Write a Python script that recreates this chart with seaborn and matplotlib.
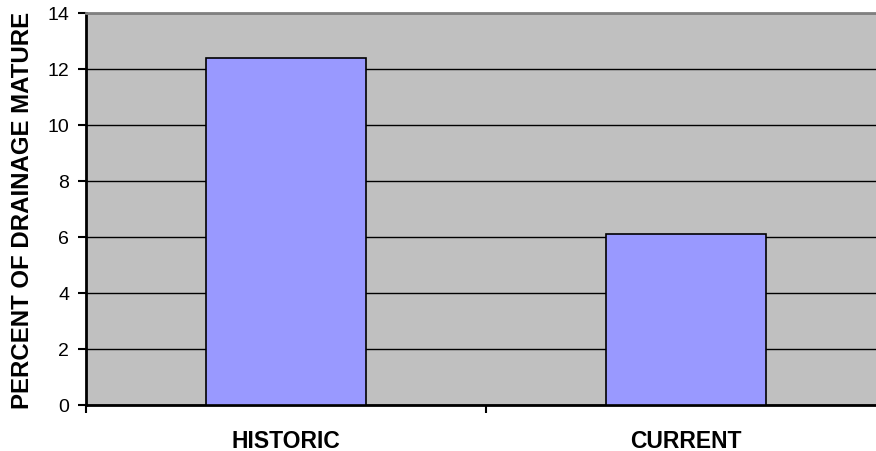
import matplotlib
matplotlib.use("Agg")
import matplotlib.pyplot as plt
import seaborn as sns
import pandas as pd

categories = ["HISTORIC", "CURRENT"]
percent_mature = [12.4, 6.1]
y_ticks = [0, 2, 4, 6, 8, 10, 12, 14]

df = pd.DataFrame({"period": categories, "percent": percent_mature})

sns.set_style("white")
plt.rcParams["font.family"] = ["Liberation Sans", "DejaVu Sans"]
plt.rcParams["text.color"] = "black"
plt.rcParams["axes.labelcolor"] = "black"
plt.rcParams["xtick.color"] = "black"
plt.rcParams["ytick.color"] = "black"

fig = plt.figure(figsize=(8.76, 4.52), dpi=100)
ax = fig.add_axes([86 / 876, 46 / 452, 800 / 876, 392 / 452])
ax.set_facecolor("#c0c0c0")

sns.barplot(data=df, x="period", y="percent", color="#9999ff", width=0.4,
            edgecolor="black", linewidth=1.2, saturation=1, ax=ax, zorder=3)

ax.set_ylim(0, 14)
ax.set_xlim(-0.5, 1.5)
ax.set_yticks(y_ticks)
ax.set_yticklabels([str(t) for t in y_ticks], fontsize=14)
ax.yaxis.grid(True, color="black", linewidth=1.0, zorder=0)
ax.set_axisbelow(True)

# category labels centred under bars, ticks at category boundaries
ax.set_xticks([-0.5, 0.5, 1.5])
ax.set_xticklabels([])
ax.set_xticks([0, 1], minor=True)
ax.set_xticklabels(categories, minor=True, fontsize=16.5, fontweight="bold")
ax.tick_params(axis="x", which="minor", length=0, pad=17)
ax.tick_params(axis="x", which="major", direction="out", length=6, width=1.5,
               bottom=True)
ax.tick_params(axis="y", direction="out", length=6, width=1.5,
               left=True, pad=6)

ax.set_xlabel("")
ax.set_ylabel("PERCENT OF DRAINAGE MATURE", fontsize=17.3, fontweight="bold",
              labelpad=10)

for side in ("left", "bottom"):
    ax.spines[side].set_color("black")
    ax.spines[side].set_linewidth(2)
ax.spines["top"].set_color("#808080")
ax.spines["top"].set_linewidth(2)
ax.spines["right"].set_visible(False)

fig.savefig("out.png", dpi=100)
